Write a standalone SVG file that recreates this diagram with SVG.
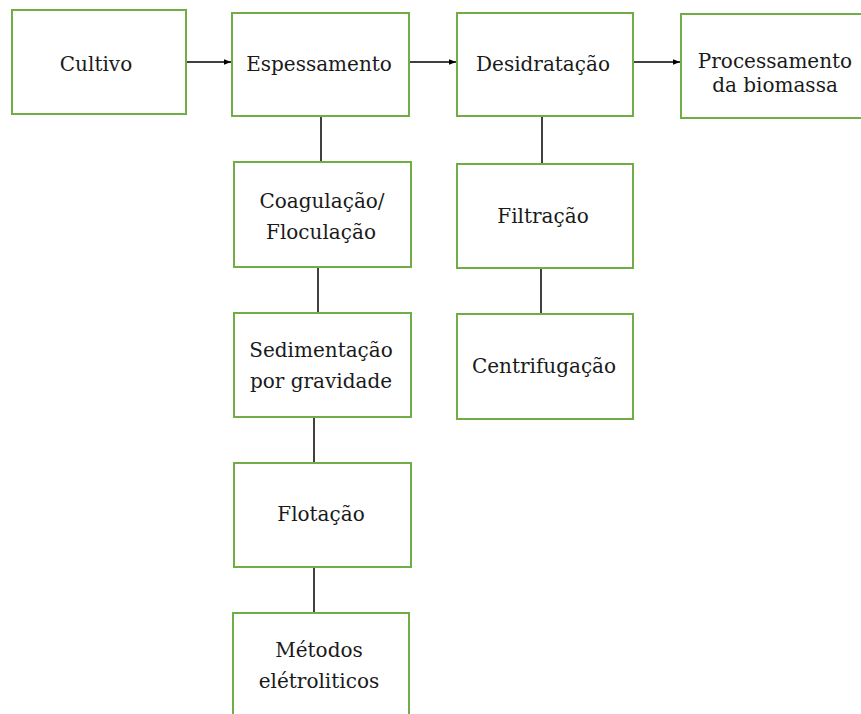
<svg xmlns="http://www.w3.org/2000/svg" width="861" height="714" viewBox="0 0 861 714">
<style>
.box{fill:#fff;stroke:#70AD47;stroke-width:2}
.t{font-family:'DejaVu Serif','Liberation Serif',serif;font-size:20px;fill:#1a1a1a;text-anchor:middle}
.c{stroke:#000;stroke-width:1.5;fill:none}
</style>
<defs>
<marker id="ah" viewBox="0 0 10 10" refX="10" refY="5" markerWidth="7" markerHeight="7" markerUnits="userSpaceOnUse" orient="auto">
<path d="M0,1 L10,5 L0,9 Z" fill="#000"/>
</marker>
</defs>
<rect width="861" height="714" fill="#fff"/>
<g id="connectors">
<line class="c" x1="186" y1="62" x2="231" y2="62" marker-end="url(#ah)"/>
<line class="c" x1="409" y1="62" x2="456" y2="62" marker-end="url(#ah)"/>
<line class="c" x1="633" y1="62" x2="680" y2="62" marker-end="url(#ah)"/>
<line class="c" x1="321" y1="116" x2="321" y2="162"/>
<line class="c" x1="318" y1="267" x2="318" y2="313"/>
<line class="c" x1="314" y1="417" x2="314" y2="463"/>
<line class="c" x1="314" y1="567" x2="314" y2="613"/>
<line class="c" x1="542" y1="116" x2="542" y2="164"/>
<line class="c" x1="541" y1="268" x2="541" y2="314"/>
</g>
<g id="cultivo"><rect class="box" x="12" y="10" width="174" height="104"/><text class="t" x="96" y="71">Cultivo</text></g>
<g id="espessamento"><rect class="box" x="232" y="13" width="177" height="103"/><text class="t" x="319" y="71">Espessamento</text></g>
<g id="desidratacao"><rect class="box" x="457" y="13" width="176" height="103"/><text class="t" x="543" y="71">Desidratação</text></g>
<g id="processamento"><rect class="box" x="681" y="14" width="182" height="104"/><text class="t" x="775" y="68">Processamento</text><text class="t" x="775" y="92">da biomassa</text></g>
<g id="coagulacao"><rect class="box" x="234" y="162" width="177" height="105"/><text class="t" x="322" y="208">Coagulação/</text><text class="t" x="321" y="239">Floculação</text></g>
<g id="sedimentacao"><rect class="box" x="234" y="313" width="177" height="104"/><text class="t" x="321" y="357">Sedimentação</text><text class="t" x="321" y="388">por gravidade</text></g>
<g id="flotacao"><rect class="box" x="234" y="463" width="177" height="104"/><text class="t" x="321" y="521">Flotação</text></g>
<g id="metodos"><rect class="box" x="233" y="613" width="176" height="110"/><text class="t" x="319" y="657">Métodos</text><text class="t" x="319" y="688">elétroliticos</text></g>
<g id="filtracao"><rect class="box" x="457" y="164" width="176" height="104"/><text class="t" x="543" y="223">Filtração</text></g>
<g id="centrifugacao"><rect class="box" x="457" y="314" width="176" height="105"/><text class="t" x="544" y="373">Centrifugação</text></g>
</svg>
